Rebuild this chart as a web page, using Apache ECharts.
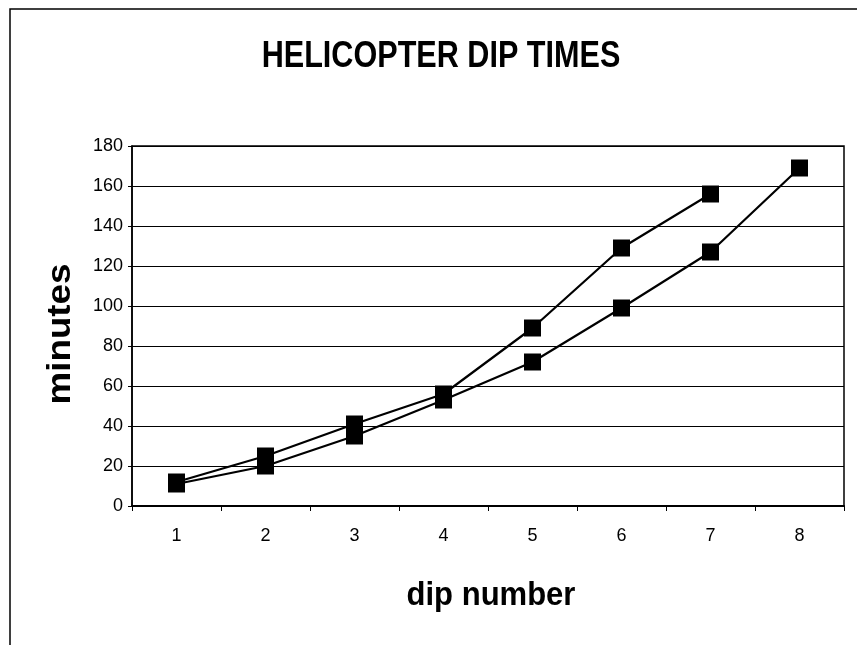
<!DOCTYPE html>
<html>
<head>
<meta charset="utf-8">
<script src="https://cdn.jsdelivr.net/npm/echarts@6/dist/echarts.min.js"></script>
<style>
  html, body { margin: 0; padding: 0; background: #fff; }
  #chart { width: 857px; height: 645px; }
</style>
</head>
<body>
<div id="chart"></div>
<script>
  // dip number categories and the two runs of times (minutes)
  var dips = ['1', '2', '3', '4', '5', '6', '7', '8'];
  var runA = [12, 25, 41, 56, 89, 129, 156, null];
  var runB = [11, 20, 35, 53, 72, 99, 127, 169];
  var yTicks = { min: 0, max: 180, step: 20 };

  var chart = echarts.init(document.getElementById('chart'));

  function lineSeries(name, data) {
    return {
      name: name,
      type: 'line',
      data: data,
      symbol: 'rect',
      symbolSize: 17,
      connectNulls: false,
      lineStyle: { color: '#000', width: 2.2 },
      itemStyle: { color: '#000', borderWidth: 0 },
      emphasis: { disabled: true },
      z: 5
    };
  }

  chart.setOption({
    backgroundColor: '#fff',
    animation: false,
    grid: { left: 132, right: 13, top: 146, bottom: 139, show: true, borderColor: '#000', borderWidth: 1.5, backgroundColor: 'transparent' },
    xAxis: {
      type: 'category',
      data: dips,
      boundaryGap: true,
      axisLine: { lineStyle: { color: '#000', width: 2 } },
      axisTick: { show: true, length: 5, lineStyle: { color: '#000' } },
      axisLabel: { color: '#000', fontSize: 18, fontFamily: 'Liberation Sans, Arial, sans-serif', margin: 21 }
    },
    yAxis: {
      type: 'value',
      min: yTicks.min,
      max: yTicks.max,
      interval: yTicks.step,
      axisLine: { show: true, lineStyle: { color: '#000', width: 1.5 } },
      axisTick: { show: true, length: 4, lineStyle: { color: '#000' } },
      splitLine: { show: true, lineStyle: { color: '#000', width: 1 } },
      axisLabel: { color: '#000', fontSize: 18, fontFamily: 'Liberation Sans, Arial, sans-serif', margin: 9 }
    },
    series: [lineSeries('run A', runA), lineSeries('run B', runB)],
    graphic: [
      {
        type: 'rect',
        shape: { x: 10, y: 9, width: 880, height: 640 },
        style: { fill: 'none', stroke: '#000', lineWidth: 1.5 },
        silent: true
      },
      {
        type: 'text',
        x: 441, y: 57,
        scaleX: 0.85,
        style: {
          text: 'HELICOPTER DIP TIMES',
          fontSize: 36, fontWeight: 'bold',
          fontFamily: 'Liberation Sans, Arial, sans-serif',
          fill: '#000', align: 'center', verticalAlign: 'middle'
        }
      },
      {
        type: 'text',
        x: 491, y: 596,
        scaleX: 0.94,
        style: {
          text: 'dip number',
          fontSize: 33, fontWeight: 'bold',
          fontFamily: 'Liberation Sans, Arial, sans-serif',
          fill: '#000', align: 'center', verticalAlign: 'middle'
        }
      },
      {
        type: 'text',
        x: 61, y: 334,
        rotation: Math.PI / 2,
        scaleX: 1.08,
        style: {
          text: 'minutes',
          fontSize: 34, fontWeight: 'bold',
          fontFamily: 'Liberation Sans, Arial, sans-serif',
          fill: '#000', align: 'center', verticalAlign: 'middle'
        }
      }
    ]
  });
</script>
</body>
</html>
